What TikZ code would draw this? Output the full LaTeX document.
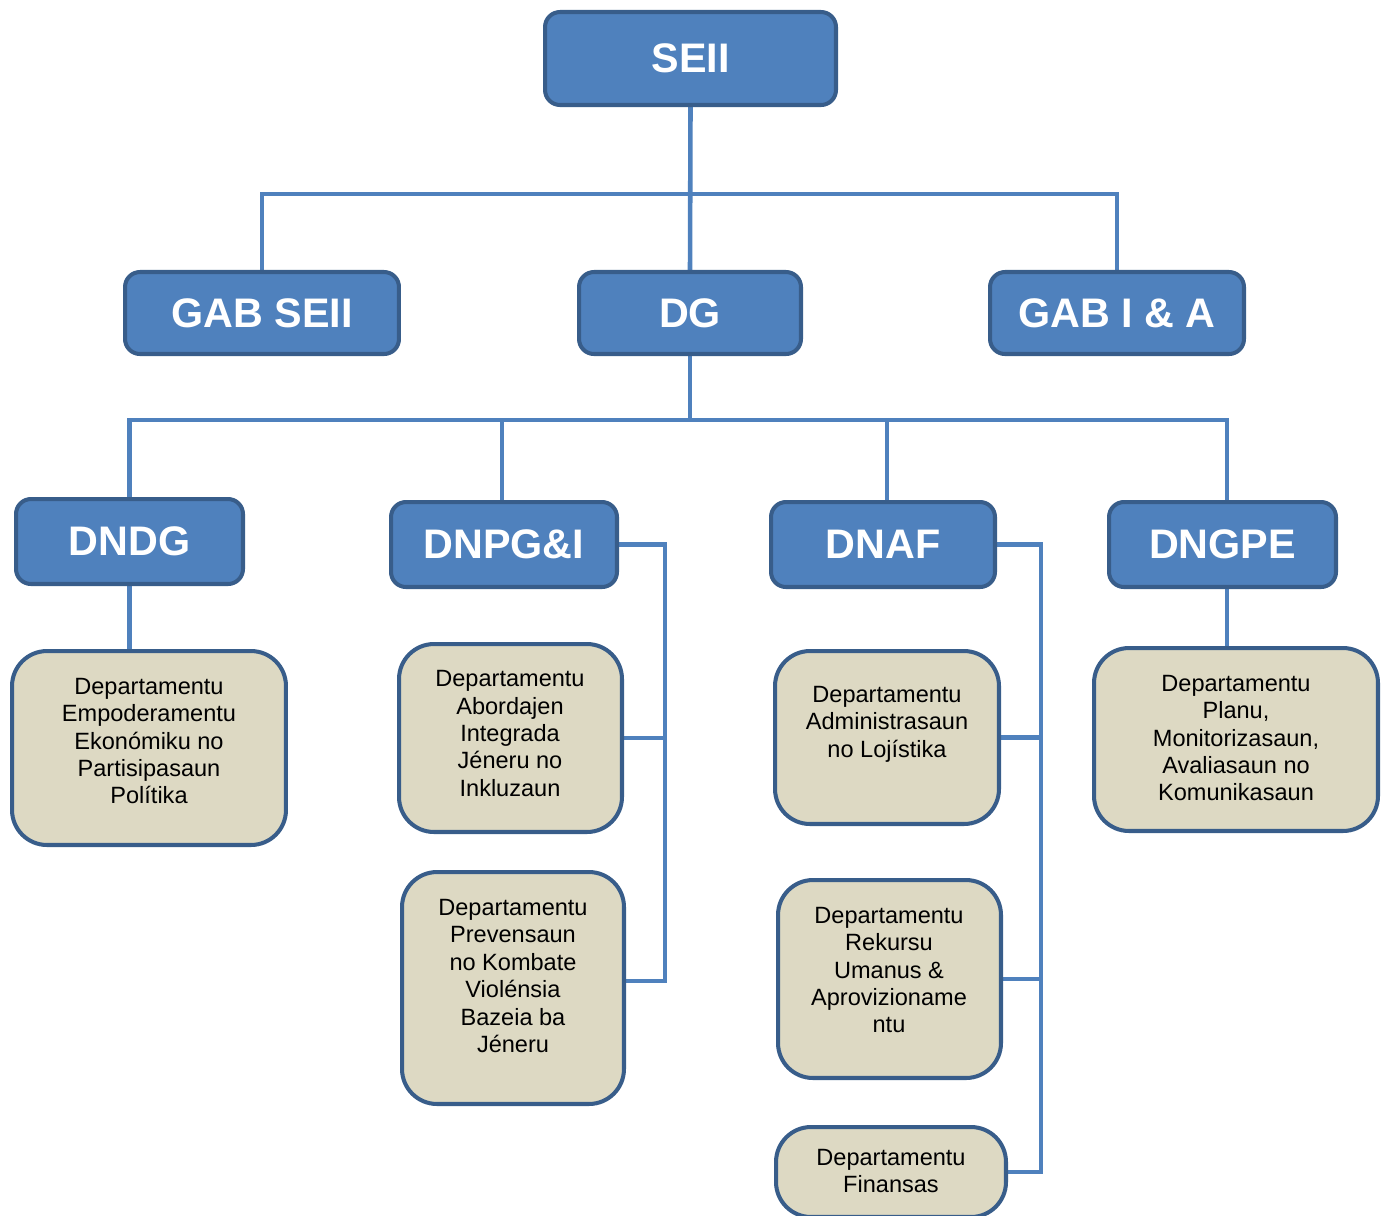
\documentclass[tikz,border=0pt]{standalone}
\usepackage{fontspec}
\setmainfont{Liberation Sans}
\usetikzlibrary{backgrounds}
\definecolor{hblue}{HTML}{4F81BD}
\definecolor{hborder}{HTML}{385D8A}
\definecolor{tanfill}{HTML}{DDD9C3}
\begin{document}
\begin{tikzpicture}[x=0.02cm,y=-0.02cm,
 head/.style={draw=hborder, fill=hblue, line width=2.3pt, rounded corners=0.3cm, text=white, font=\fontsize{23.5}{28}\selectfont\bfseries, inner sep=0pt},
 dept/.style={draw=hborder, fill=tanfill, line width=2.3pt, rounded corners=0.7cm, inner sep=0pt},
 dtext/.style={align=center, font=\fontsize{13.4}{15.6}\selectfont, inner sep=0pt},
 conn/.style={draw=hblue, line width=2.6pt}]
\useasboundingbox (0,0) rectangle (1389,1215);
% heads
\node[head, minimum width=5.82cm, minimum height=1.86cm] (SEII) at (690.5,58.5) {SEII};
\node[head, minimum width=5.48cm, minimum height=1.64cm] (GABSEII) at (262,313) {GAB SEII};
\node[head, minimum width=4.44cm, minimum height=1.64cm] (DG) at (690,313) {DG};
\node[head, minimum width=5.08cm, minimum height=1.64cm] (GABIA) at (1117,313) {GAB I \& A};
\node[head, minimum width=4.54cm, minimum height=1.70cm] (DNDG) at (129.5,541.5) {DNDG};
\node[head, minimum width=4.52cm, minimum height=1.70cm] (DNPGI) at (504,544.5) {DNPG\&I};
\node[head, minimum width=4.48cm, minimum height=1.70cm] (DNAF) at (883,544.5) {DNAF};
\node[head, minimum width=4.54cm, minimum height=1.70cm] (DNGPE) at (1222.5,544.5) {DNGPE};
% departments
\node[dept, minimum width=5.48cm, minimum height=3.88cm] (E1) at (149,748) {};
\node[dtext] at (149,741) {Departamentu\\Empoderamentu\\Ekonómiku no\\Partisipasaun\\Polítika};
\node[dept, minimum width=4.46cm, minimum height=3.76cm] (A) at (510.5,738) {};
\node[dtext] at (510,733.5) {Departamentu\\Abordajen\\Integrada\\Jéneru no\\Inkluzaun};
\node[dept, minimum width=4.44cm, minimum height=4.64cm] (P) at (513,988) {};
\node[dtext] at (513,976) {Departamentu\\Prevensaun\\no Kombate\\Violénsia\\Bazeia ba\\Jéneru};
\node[dept, minimum width=4.48cm, minimum height=3.46cm] (AL) at (887,737.5) {};
\node[dtext] at (887,724) {Departamentu\\Administrasaun\\no Lojístika};
\node[dept, minimum width=4.46cm, minimum height=3.96cm] (R) at (889.5,979) {};
\node[dtext] at (889,970) {Departamentu\\Rekursu\\Umanus \&\\Aprovizioname\\ntu};
\node[dept, minimum width=4.60cm, minimum height=1.80cm] (F) at (891,1172) {};
\node[dtext] at (891,1171) {Departamentu\\Finansas};
\node[dept, minimum width=5.68cm, minimum height=3.66cm] (PL) at (1236,739.5) {};
\node[dtext] at (1236,738) {Departamentu\\Planu,\\Monitorizasaun,\\Avaliasaun no\\Komunikasaun};
% connectors
\coordinate (bar1) at (690,194);
\coordinate (bar2) at (690,420);
\coordinate (sp1) at (665,981);
\coordinate (sp2) at (1041,1172);
\coordinate (dnpgiTop) at (502,500);
\coordinate (dnafTop) at (887,500);
\coordinate (dngpeTop) at (1227,500);
\coordinate (dngpeBot) at (1227,589);
\begin{pgfonlayer}{background}
\draw[conn] (SEII.south) -- (DG.north);
\draw[conn] (GABSEII.north) |- (bar1) -| (GABIA.north);
\draw[conn] (DG.south) -- (bar2);
\draw[conn] (DNDG.north) |- (bar2) -| (dngpeTop);
\draw[conn] (dnpgiTop) -- (dnpgiTop |- bar2);
\draw[conn] (dnafTop) -- (dnafTop |- bar2);
\draw[conn] (DNDG.south) -- (E1.north -| DNDG.south);
\draw[conn] (dngpeBot) -- (PL.north -| dngpeBot);
\draw[conn] (DNPGI.east) -| (sp1) -- (sp1 -| P.east);
\draw[conn] (A.east) -- (A.east -| sp1);
\draw[conn] (DNAF.east) -| (sp2) -- (F.east);
\draw[conn] (AL.east) -- (AL.east -| sp2);
\draw[conn] (R.east) -- (R.east -| sp2);
\end{pgfonlayer}
\end{tikzpicture}
\end{document}
